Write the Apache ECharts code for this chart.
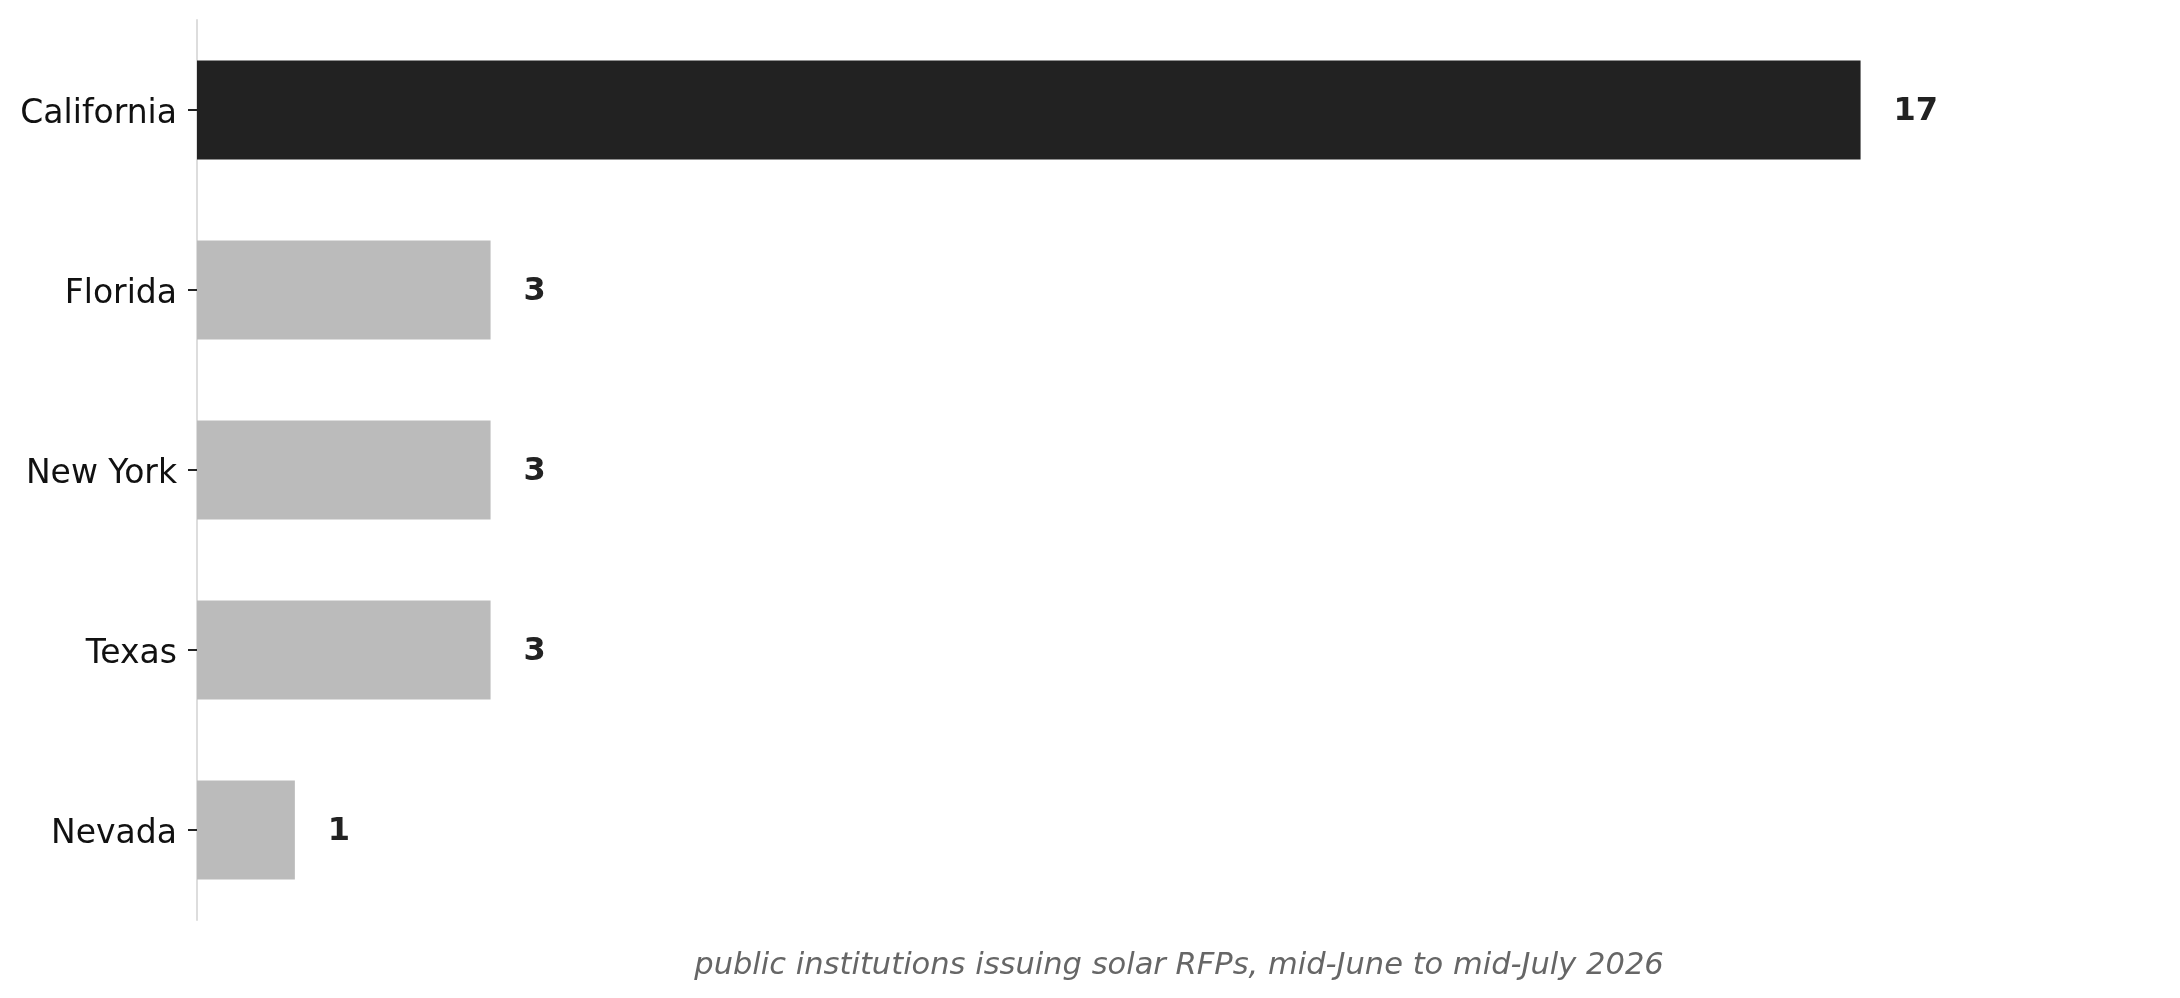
<!DOCTYPE html>
<html>
<head>
<meta charset="utf-8">
<script src="https://cdn.jsdelivr.net/npm/echarts@6/dist/echarts.min.js"></script>
<style>
html,body{margin:0;padding:0;background:#fff;}
#c{width:2180px;height:998px;}
</style>
</head>
<body>
<div id="c"></div>
<script>
const categories = ["California", "Florida", "New York", "Texas", "Nevada"];
const values = [17, 3, 3, 3, 1];
const highlight = ["California"];
const caption = "public institutions issuing solar RFPs, mid-June to mid-July 2026";

const chart = echarts.init(document.getElementById('c'), null, {renderer: 'canvas'});
chart.setOption({
  animation: false,
  backgroundColor: '#ffffff',
  grid: {left: 197, right: 19, top: 20, bottom: 78, containLabel: false},
  xAxis: {
    type: 'value', min: 0, max: 20.07,
    axisLine: {show: false}, axisTick: {show: false},
    axisLabel: {show: false}, splitLine: {show: false},
    name: caption, nameLocation: 'middle', nameGap: 31,
    nameTextStyle: {fontFamily: 'DejaVu Sans', fontStyle: 'italic', fontSize: 30.5, color: '#666666'}
  },
  yAxis: {
    type: 'category', data: categories, inverse: true,
    axisLine: {show: true, lineStyle: {color: '#dddddd', width: 2}},
    axisTick: {show: true, alignWithLabel: true, length: 9, lineStyle: {color: '#222222', width: 2}},
    axisLabel: {
      fontFamily: 'DejaVu Sans', fontSize: 33, color: '#111111', margin: 20,
      formatter: '{a|{value}}',
      rich: {a: {fontFamily: 'DejaVu Sans', fontSize: 33, color: '#111111', padding: [8, 0, 0, 0]}}
    },
    splitLine: {show: false}
  },
  series: [{
    type: 'bar',
    data: values.map((v, i) => ({
      value: v,
      itemStyle: {color: highlight.includes(categories[i]) ? '#222222' : '#bbbbbb'}
    })),
    barWidth: '55%',
    label: {
      show: true, position: 'right', distance: 33,
      formatter: '{b|{c}}',
      rich: {b: {fontFamily: 'DejaVu Sans', fontWeight: 'bold', fontSize: 32, color: '#222222', padding: [3, 0, 0, 0]}}
    }
  }]
});
</script>
</body>
</html>
